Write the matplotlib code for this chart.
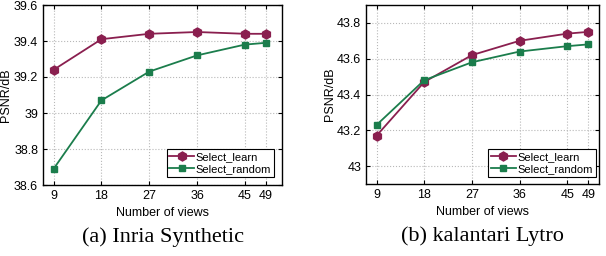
import matplotlib.pyplot as plt

views = [9, 18, 27, 36, 45, 49]

# (a) Inria Synthetic
inria_learn = [39.24, 39.41, 39.44, 39.45, 39.44, 39.44]
inria_random = [38.69, 39.07, 39.23, 39.32, 39.38, 39.39]

# (b) kalantari Lytro
lytro_learn = [43.17, 43.47, 43.62, 43.70, 43.74, 43.75]
lytro_random = [43.23, 43.48, 43.58, 43.64, 43.67, 43.68]

learn_color = '#8a1f4f'
random_color = '#1b7d4c'

plt.rcParams['font.family'] = ['Liberation Sans', 'DejaVu Sans']
plt.rcParams['font.size'] = 9

fig = plt.figure(figsize=(6.06, 2.56), dpi=100)
ax1 = fig.add_axes([43 / 606, 1 - 185 / 256, 239 / 606, 180 / 256])
ax2 = fig.add_axes([366 / 606, 1 - 184 / 256, 233 / 606, 179 / 256])

panels = [
    (ax1, inria_learn, inria_random, (7, 52), (38.6, 39.6),
     [38.6, 38.8, 39.0, 39.2, 39.4, 39.6], ['38.6', '38.8', '39', '39.2', '39.4', '39.6'],
     (0.967, 0.044), '(a) Inria Synthetic'),
    (ax2, lytro_learn, lytro_random, (7, 51), (42.9, 43.9),
     [43.0, 43.2, 43.4, 43.6, 43.8], ['43', '43.2', '43.4', '43.6', '43.8'],
     (0.987, 0.04), '(b) kalantari Lytro'),
]

for ax, learn, rand, xl, yl, yt, ytl, leg_pos, caption in panels:
    ax.plot(views, learn, color=learn_color, marker='h', markersize=6.5,
            linewidth=1.3, label='Select_learn')
    ax.plot(views, rand, color=random_color, marker='s', markersize=5,
            linewidth=1.3, label='Select_random')
    ax.set_xlim(*xl)
    ax.set_ylim(*yl)
    ax.set_xticks(views)
    ax.set_yticks(yt)
    ax.set_yticklabels(ytl)
    ax.grid(True, linestyle=':', color='#b8b8b8', linewidth=0.8)
    ax.tick_params(direction='in', top=True, right=True, length=3, width=0.8,
                   labelsize=9, colors='black')
    for s in ax.spines.values():
        s.set_linewidth(1.0)
    ax.set_xlabel('Number of views', fontsize=9, labelpad=4)
    ax.set_ylabel('PSNR/dB', fontsize=9)
    ax.yaxis.set_label_coords(-0.13, 0.5)
    leg = ax.legend(loc='lower right', bbox_to_anchor=leg_pos, borderaxespad=0,
                    fontsize=8, fancybox=False, framealpha=1, edgecolor='black',
                    handlelength=2.2, handletextpad=0.2, borderpad=0.25,
                    labelspacing=0.2)
    leg.get_frame().set_linewidth(0.8)
    ax.text(0.5, -0.29, caption, transform=ax.transAxes, ha='center', va='center',
            fontsize=16, family=['Liberation Serif', 'DejaVu Serif'])

fig.savefig('out.png', dpi=100)
